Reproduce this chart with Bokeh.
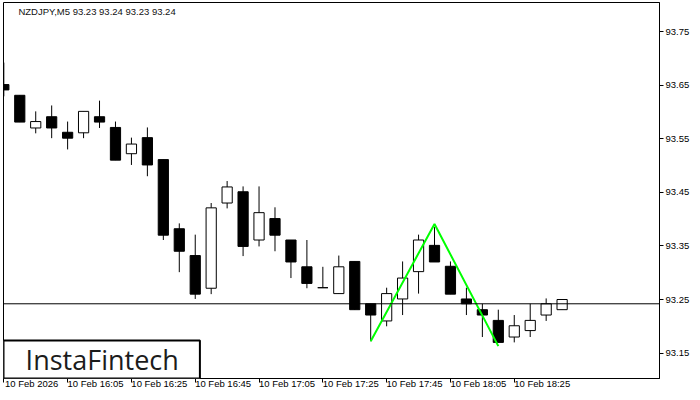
from bokeh.plotting import figure
from bokeh.models import Range1d, FixedTicker, Label, Span, BoxAnnotation, ColumnDataSource
from bokeh.embed import file_html
from bokeh.resources import INLINE

# ---- data (NZDJPY, M5) ----
idx = list(range(36))
opens = [93.651, 93.631, 93.570, 93.591, 93.562, 93.561, 93.591, 93.571, 93.522, 93.552,
         93.511, 93.382, 93.332, 93.271, 93.430, 93.451, 93.361, 93.401, 93.361, 93.311,
         93.272, 93.261, 93.321, 93.242, 93.210, 93.251, 93.302, 93.351, 93.312, 93.251,
         93.231, 93.211, 93.180, 93.192, 93.221, 93.231]
highs = [93.692, 93.631, 93.601, 93.612, 93.582, 93.601, 93.621, 93.582, 93.552, 93.571,
         93.511, 93.392, 93.371, 93.430, 93.471, 93.461, 93.461, 93.422, 93.361, 93.361,
         93.311, 93.332, 93.321, 93.242, 93.272, 93.321, 93.371, 93.385, 93.321, 93.272,
         93.242, 93.231, 93.221, 93.242, 93.252, 93.250]
lows = [93.629, 93.581, 93.560, 93.551, 93.530, 93.551, 93.570, 93.510, 93.501, 93.480,
        93.361, 93.301, 93.251, 93.260, 93.420, 93.331, 93.349, 93.340, 93.290, 93.271,
        93.272, 93.261, 93.231, 93.172, 93.200, 93.221, 93.261, 93.320, 93.260, 93.221,
        93.180, 93.170, 93.170, 93.180, 93.210, 93.231]
closes = [93.641, 93.581, 93.582, 93.570, 93.551, 93.601, 93.581, 93.510, 93.540, 93.501,
          93.370, 93.340, 93.260, 93.421, 93.460, 93.349, 93.412, 93.370, 93.320, 93.280,
          93.272, 93.311, 93.231, 93.221, 93.261, 93.290, 93.361, 93.320, 93.260, 93.242,
          93.221, 93.170, 93.201, 93.211, 93.242, 93.250]

pattern_x = [23, 27, 31]
pattern_y = [93.172, 93.391, 93.163]

last_price = 93.242
price_ticks = [93.15, 93.25, 93.35, 93.45, 93.55, 93.65, 93.75]
time_ticks = [0, 4, 8, 12, 16, 20, 24, 28, 32]
time_labels = ["10 Feb 2026", "10 Feb 16:05", "10 Feb 16:25", "10 Feb 16:45", "10 Feb 17:05",
               "10 Feb 17:25", "10 Feb 17:45", "10 Feb 18:05", "10 Feb 18:25"]
title_text = "NZDJPY,M5  93.23 93.24 93.23 93.24"
logo_text = "InstaFintech"

# ---- geometry ----
W, H = 692, 392
FL, FT, FR, FB = 3, 2, 661, 378          # frame edges in picture pixels
X0 = -0.02
X1 = X0 + (FR - FL) / 16.0
Y1 = 93.75 + (31 - FT) / 536.0
Y0 = 93.75 - (FB - 31) / 536.0
LABEL_SHIFT = 1.75  # half a time label's width, in candle units (labels start at their tick)

def dx(px):  # picture x pixel -> data
    return X0 + (px - FL) / 16.0

def dy(py):  # picture y pixel -> data
    return 93.75 - (py - 31) / 536.0

bull = [c >= o for o, c in zip(opens, closes)]
src_bull = ColumnDataSource(dict(
    x=[i for i, b in zip(idx, bull) if b],
    top=[c for c, b in zip(closes, bull) if b],
    bottom=[o for o, b in zip(opens, bull) if b]))
src_bear = ColumnDataSource(dict(
    x=[i for i, b in zip(idx, bull) if not b],
    top=[o for o, b in zip(opens, bull) if not b],
    bottom=[c for c, b in zip(closes, bull) if not b]))
src_wick = ColumnDataSource(dict(x=idx, h=highs, l=lows))

p = figure(width=W, height=H, x_range=Range1d(X0, X1), y_range=Range1d(Y0, Y1),
           output_backend="svg", toolbar_location=None, y_axis_location="right",
           min_border_left=FL, min_border_top=FT, min_border_right=W - FR, min_border_bottom=H - FB)
p.background_fill_color = "white"
p.border_fill_color = "white"
p.outline_line_color = "black"
p.outline_line_width = 1
p.xgrid.visible = False
p.ygrid.visible = False

p.segment(x0="x", y0="l", x1="x", y1="h", source=src_wick, line_color="black", line_width=1)
p.vbar(x="x", top="top", bottom="bottom", width=0.64, source=src_bull,
       fill_color="white", line_color="black", line_width=1)
p.vbar(x="x", top="top", bottom="bottom", width=0.64, source=src_bear,
       fill_color="black", line_color="black", line_width=1)

p.add_layout(Span(location=last_price, dimension="width", line_color="black", line_width=1))

p.line(pattern_x, pattern_y, line_color="#00ff00", line_width=2)

# right price axis
ya = p.yaxis[0]
ya.ticker = FixedTicker(ticks=price_ticks)
ya.major_label_overrides = {t: f"{t:.2f}" for t in price_ticks}
ya.axis_line_color = "black"
ya.major_tick_out = 4
ya.major_tick_in = 0
ya.minor_tick_line_color = None
ya.major_label_standoff = 2
ya.major_label_text_font = "Liberation Sans"
ya.major_label_text_font_size = "9.5px"
ya.major_label_text_color = "black"

# bottom time axis: tick marks as "minor" ticks at the real times,
# labels at shifted positions so each label starts at its tick
shifted = [t + LABEL_SHIFT for t in time_ticks]
xa = p.xaxis[0]
xa.ticker = FixedTicker(ticks=shifted, minor_ticks=time_ticks)
xa.major_label_overrides = {s: lab for s, lab in zip(shifted, time_labels)}
xa.axis_line_color = "black"
xa.major_tick_line_color = None
xa.major_tick_out = 0
xa.major_tick_in = 0
xa.minor_tick_line_color = "black"
xa.minor_tick_out = 4
xa.minor_tick_in = 0
xa.major_label_standoff = -5
xa.major_label_text_font = "Liberation Sans"
xa.major_label_text_font_size = "9.5px"
xa.major_label_text_color = "black"

# title
p.add_layout(Label(x=dx(18), y=dy(11), text=title_text, text_align="left", text_baseline="middle",
                   text_font="Liberation Sans", text_font_size="9.5px", text_color="#111111"))

# logo box
p.add_layout(BoxAnnotation(left=X0, right=dx(200), top=dy(340), bottom=Y0,
                           fill_color="white", fill_alpha=1.0, line_color="black", line_width=2,
                           line_alpha=1.0))
p.add_layout(Label(x=dx(102), y=dy(359), text=logo_text, text_align="center", text_baseline="middle",
                   text_font="Open Sans", text_font_size="27px", text_color="#1b1b1b"))

# current price label
p.add_layout(Label(x=X1, y=last_price, x_offset=2, text=f"{last_price:.2f}", text_align="left",
                   text_baseline="middle", text_font="Liberation Sans", text_font_size="9.5px",
                   text_color="white", background_fill_color="black", background_fill_alpha=1.0,
                   padding=3))

open("out.html", "w").write(file_html(p, INLINE))
